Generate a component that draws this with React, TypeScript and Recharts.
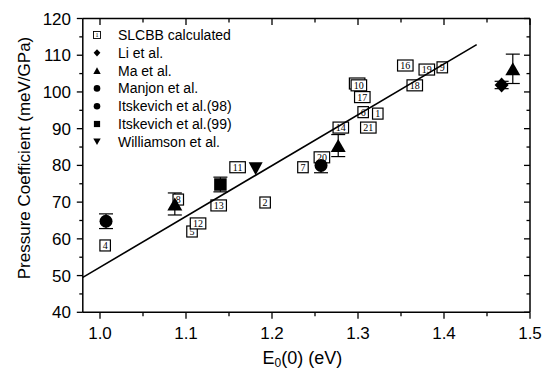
import React from 'react';
import { ScatterChart, Scatter, XAxis, YAxis, ErrorBar, Legend } from 'recharts';

const SANS = '"Liberation Sans", Arial, Helvetica, sans-serif';
const SERIF = '"Liberation Serif", "Times New Roman", serif';

// SLCBB calculated (numbered boxes)
const slcbbLabels = ['15', '10', '17', '6', '1', '2', '4', '5', '7', '8', '19', '9', '11', '12', '13', '14', '16', '18', '20', '21'];
const slcbbX = [1.299, 1.301, 1.305, 1.306, 1.323, 1.192, 1.006, 1.107, 1.236, 1.091, 1.380, 1.398, 1.160, 1.114, 1.138, 1.280, 1.355, 1.366, 1.258, 1.312];
const slcbbY = [102.3, 101.8, 98.6, 94.5, 94.1, 69.9, 58.2, 62.0, 79.5, 70.7, 106.1, 106.7, 79.5, 64.2, 69.1, 90.3, 107.2, 101.8, 82.2, 90.3];

// Experimental series
const liX = [1.467];
const liY = [101.9];
const liErr = [1];

const maX = [1.087, 1.277, 1.48];
const maY = [69.5, 85.4, 106.3];
const maErr = [3, 3, 4];

const manjonX = [1.257];
const manjonY = [80];
const manjonErr = [2];

const its98X = [1.007];
const its98Y = [64.8];
const its98Err = [2];

const its99X = [1.14];
const its99Y = [74.8];
const its99Err = [2];

const williamsonX = [1.181];
const williamsonY = [79.1];

// Linear fit line end points
const fitX = [0.98, 1.438];
const fitY = [49.5, 112.9];

const xTicks = [1.0, 1.05, 1.1, 1.15, 1.2, 1.25, 1.3, 1.35, 1.4, 1.45, 1.5];
const yTicks = [40, 45, 50, 55, 60, 65, 70, 75, 80, 85, 90, 95, 100, 105, 110, 115, 120];

const legendNames = [
  'SLCBB calculated',
  'Li et al.',
  'Ma et al.',
  'Manjon et al.',
  'Itskevich et al.(98)',
  'Itskevich et al.(99)',
  'Williamson et al.',
];
const legendKinds = ['box', 'diamond', 'triUp', 'circle', 'circle', 'square', 'triDown'];

const zip = (xs: number[], ys: number[], es?: number[]) =>
  xs.map((x, i) => ({ x, y: ys[i], err: es ? es[i] : 0 }));

const slcbbData = slcbbX.map((x, i) => ({ x, y: slcbbY[i], label: slcbbLabels[i] }));
const liData = zip(liX, liY, liErr);
const maData = zip(maX, maY, maErr);
const manjonData = zip(manjonX, manjonY, manjonErr);
const its98Data = zip(its98X, its98Y, its98Err);
const its99Data = zip(its99X, its99Y, its99Err);
const williamsonData = zip(williamsonX, williamsonY);
const fitData = zip(fitX, fitY);

const isMajorX = (v: number) => Math.abs(v * 10 - Math.round(v * 10)) < 1e-6;
const isMajorY = (v: number) => Math.abs(v % 10) < 1e-6;

const BoxShape = (props: any) => {
  const { cx, cy, payload } = props;
  const w = payload.label.length > 1 ? 15.5 : 10.5;
  return (
    <g>
      <rect x={cx - w / 2} y={cy - 5.5} width={w} height={11} fill="#fff" stroke="#000" strokeWidth={1.2} />
      <text x={cx} y={cy + 3.5} textAnchor="middle" fontFamily={SERIF} fontSize={10} fill="#000">
        {payload.label}
      </text>
    </g>
  );
};

const DiamondShape = (props: any) => {
  const { cx, cy } = props;
  return <polygon points={`${cx},${cy - 7.5} ${cx + 7},${cy} ${cx},${cy + 7.5} ${cx - 7},${cy}`} fill="#000" />;
};
const TriUpShape = (props: any) => {
  const { cx, cy } = props;
  return <polygon points={`${cx},${cy - 6.5} ${cx + 7.5},${cy + 6.5} ${cx - 7.5},${cy + 6.5}`} fill="#000" />;
};
const TriDownShape = (props: any) => {
  const { cx, cy } = props;
  return <polygon points={`${cx - 7},${cy - 6.5} ${cx + 7},${cy - 6.5} ${cx},${cy + 6.5}`} fill="#000" />;
};
const CircleShape = (props: any) => {
  const { cx, cy } = props;
  return <circle cx={cx} cy={cy} r={6.5} fill="#000" />;
};
const SquareShape = (props: any) => {
  const { cx, cy } = props;
  return <rect x={cx - 6.25} y={cy - 6.25} width={12.5} height={12.5} fill="#000" />;
};
const NoShape = () => <g />;

const BottomTick = (props: any) => {
  const { x, y, payload } = props;
  const v = payload.value;
  const major = isMajorX(v);
  return (
    <g>
      <line x1={x} x2={x} y1={y} y2={y + (major ? 6.5 : 4)} stroke="#000" strokeWidth={1.3} />
      {major && (
        <text x={x} y={y + 26.7} textAnchor="middle" fontFamily={SANS} fontSize={17} fill="#000">
          {v.toFixed(1)}
        </text>
      )}
    </g>
  );
};
const TopTick = (props: any) => {
  const { x, y, payload } = props;
  const major = isMajorX(payload.value);
  return <line x1={x} x2={x} y1={y} y2={y + (major ? 6.5 : 4)} stroke="#000" strokeWidth={1.3} />;
};
const LeftTick = (props: any) => {
  const { x, y, payload } = props;
  const v = payload.value;
  const major = isMajorY(v);
  return (
    <g>
      <line x1={x} x2={x - (major ? 6 : 3.5)} y1={y} y2={y} stroke="#000" strokeWidth={1.3} />
      {major && (
        <text x={x - 11.8} y={y + 6} textAnchor="end" fontFamily={SANS} fontSize={17} fill="#000">
          {String(v)}
        </text>
      )}
    </g>
  );
};
const RightTick = (props: any) => {
  const { x, y, payload } = props;
  const major = isMajorY(payload.value);
  return <line x1={x} x2={x - (major ? 6 : 3.5)} y1={y} y2={y} stroke="#000" strokeWidth={1.3} />;
};

const XTitle = (props: any) => {
  const vb = props.viewBox || { x: 82.8, y: 312.3, width: 447.2 };
  const cx = vb.x + vb.width / 2 - 4;
  const by = vb.y + 51.2;
  return (
    <text x={cx} y={by} textAnchor="middle" fontFamily={SANS} fontSize={18} fill="#000">
      <tspan>E</tspan>
      <tspan fontSize={12} dy={3.5}>0</tspan>
      <tspan dy={-3.5}>(0) (eV)</tspan>
    </text>
  );
};
const YTitle = (props: any) => {
  const vb = props.viewBox || { x: 22.8, y: 18.5, width: 60, height: 293.8 };
  const bx = vb.x + 6.7;
  const cy = vb.y + vb.height / 2 - 7.4;
  return (
    <text
      x={bx}
      y={cy}
      textAnchor="middle"
      transform={`rotate(-90, ${bx}, ${cy})`}
      fontFamily={SANS}
      fontSize={17}
      fill="#000"
    >
      Pressure Coefficient (meV/GPa)
    </text>
  );
};

const LegendMarker = ({ kind, cx, cy }: { kind: string; cx: number; cy: number }) => {
  switch (kind) {
    case 'box':
      return (
        <g>
          <rect x={cx - 3.5} y={cy - 3.5} width={7} height={7} fill="#fff" stroke="#000" strokeWidth={0.9} />
          <text x={cx} y={cy + 2.2} textAnchor="middle" fontFamily={SERIF} fontSize={6} fill="#000">1</text>
        </g>
      );
    case 'diamond':
      return <polygon points={`${cx},${cy - 3.6} ${cx + 3.4},${cy} ${cx},${cy + 3.6} ${cx - 3.4},${cy}`} fill="#000" />;
    case 'triUp':
      return <polygon points={`${cx},${cy - 3.3} ${cx + 3.7},${cy + 3.3} ${cx - 3.7},${cy + 3.3}`} fill="#000" />;
    case 'triDown':
      return <polygon points={`${cx - 3.7},${cy - 3.3} ${cx + 3.7},${cy - 3.3} ${cx},${cy + 3.3}`} fill="#000" />;
    case 'circle':
      return <circle cx={cx} cy={cy} r={3.3} fill="#000" />;
    case 'square':
      return <rect x={cx - 3.1} y={cy - 3.1} width={6.2} height={6.2} fill="#000" />;
    default:
      return null;
  }
};

const LegendContent = () => (
  <svg width={200} height={130} style={{ display: 'block', overflow: 'visible' }}>
    {legendNames.map((name, i) => {
      const cy = 11 + i * 17.8;
      return (
        <g key={name}>
          <LegendMarker kind={legendKinds[i]} cx={12} cy={cy} />
          <text x={33} y={cy + 5} fontFamily={SANS} fontSize={14} fill="#000">
            {name}
          </text>
        </g>
      );
    })}
  </svg>
);

export default function App() {
  return (
    <div style={{ position: 'absolute', left: 0, top: 0, width: 552, height: 369, background: '#fff' }}>
      <ScatterChart width={552} height={369} margin={{ top: 18.5, right: 22, bottom: 16.7, left: 22.8 }}>
        <XAxis
          type="number"
          dataKey="x"
          domain={[0.98, 1.5]}
          ticks={xTicks}
          interval={0}
          height={40}
          allowDataOverflow
          axisLine={{ stroke: '#000', strokeWidth: 1.5 }}
          tickLine={false}
          tickSize={0}
          tickMargin={0}
          tick={BottomTick}
          label={XTitle}
        />
        <XAxis
          xAxisId="top"
          orientation="top"
          mirror
          type="number"
          dataKey="x"
          domain={[0.98, 1.5]}
          ticks={xTicks}
          interval={0}
          height={10}
          allowDataOverflow
          axisLine={{ stroke: '#000', strokeWidth: 1.5 }}
          tickLine={false}
          tickSize={0}
          tickMargin={0}
          tick={TopTick}
        />
        <YAxis
          type="number"
          dataKey="y"
          domain={[40, 120]}
          ticks={yTicks}
          interval={0}
          width={60}
          allowDataOverflow
          axisLine={{ stroke: '#000', strokeWidth: 1.5 }}
          tickLine={false}
          tickSize={0}
          tickMargin={0}
          tick={LeftTick}
          label={YTitle}
        />
        <YAxis
          yAxisId="right"
          orientation="right"
          mirror
          type="number"
          dataKey="y"
          domain={[40, 120]}
          ticks={yTicks}
          interval={0}
          width={10}
          allowDataOverflow
          axisLine={{ stroke: '#000', strokeWidth: 1.5 }}
          tickLine={false}
          tickSize={0}
          tickMargin={0}
          tick={RightTick}
        />
        <Legend
          layout="vertical"
          align="center"
          verticalAlign="middle"
          wrapperStyle={{ position: 'absolute', left: 85, top: 24, width: 200, height: 130 }}
          content={LegendContent}
        />
        <Scatter name="SLCBB calculated" data={slcbbData} shape={BoxShape} isAnimationActive={false} />
        <Scatter name="Li et al." data={liData} shape={DiamondShape} fill="#000" isAnimationActive={false}>
          <ErrorBar dataKey="err" direction="y" width={7} stroke="#000" strokeWidth={1.2} />
        </Scatter>
        <Scatter name="Ma et al." data={maData} shape={TriUpShape} fill="#000" isAnimationActive={false}>
          <ErrorBar dataKey="err" direction="y" width={7} stroke="#000" strokeWidth={1.2} />
        </Scatter>
        <Scatter name="Manjon et al." data={manjonData} shape={CircleShape} fill="#000" isAnimationActive={false}>
          <ErrorBar dataKey="err" direction="y" width={7} stroke="#000" strokeWidth={1.2} />
        </Scatter>
        <Scatter name="Itskevich et al.(98)" data={its98Data} shape={CircleShape} fill="#000" isAnimationActive={false}>
          <ErrorBar dataKey="err" direction="y" width={7} stroke="#000" strokeWidth={1.2} />
        </Scatter>
        <Scatter name="Itskevich et al.(99)" data={its99Data} shape={SquareShape} fill="#000" isAnimationActive={false}>
          <ErrorBar dataKey="err" direction="y" width={7} stroke="#000" strokeWidth={1.2} />
        </Scatter>
        <Scatter name="Williamson et al." data={williamsonData} shape={TriDownShape} fill="#000" isAnimationActive={false} />
        <Scatter
          name="fit"
          legendType="none"
          data={fitData}
          shape={NoShape}
          fill="#000"
          line={{ stroke: '#000', strokeWidth: 1.6 }}
          isAnimationActive={false}
        />
      </ScatterChart>
    </div>
  );
}
